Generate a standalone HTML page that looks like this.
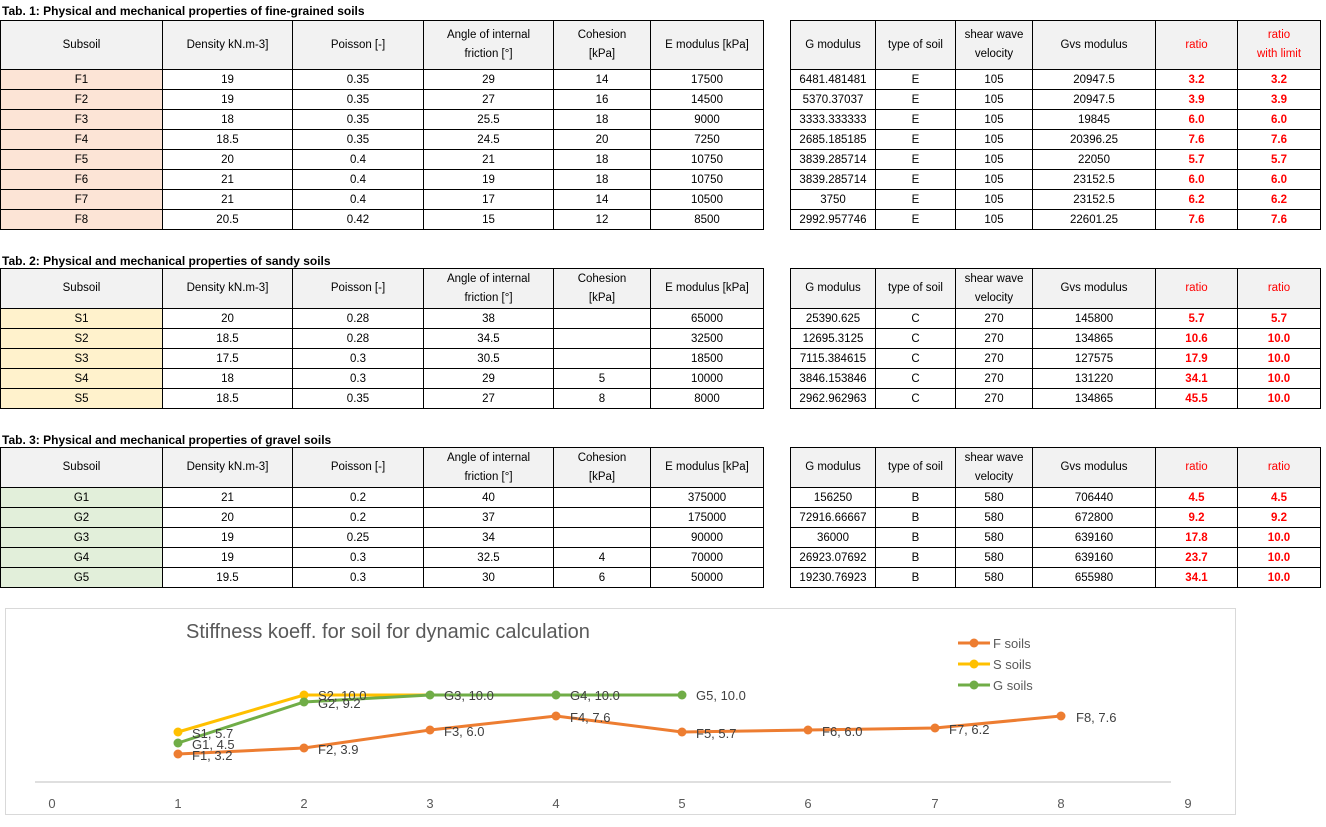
<!DOCTYPE html>
<html><head><meta charset="utf-8"><style>
body{margin:0;width:1326px;height:827px;background:#fff;position:relative;overflow:hidden;font-family:"Liberation Sans",sans-serif;font-size:11.5px;color:#000}
.t{position:absolute;font-weight:bold;font-size:12px;left:2px}
table{position:absolute;border-collapse:collapse;table-layout:fixed}
td{border:1px solid #000;text-align:center;padding:0;height:18px;line-height:14px;padding-top:1px;overflow:hidden;white-space:nowrap}
tr.h td{background:#f2f2f2;white-space:normal;line-height:19px;padding:0 14px}
.r{color:#f00;font-weight:bold}
.F td.s{background:#fce4d6}.S td.s{background:#fff2cc}.G td.s{background:#e2efda}
</style></head><body>
<div class="t" style="top:4px">Tab. 1: Physical and mechanical properties of fine-grained soils</div>
<table class="F" style="left:0;top:20px;width:763px">
<colgroup><col style="width:162px"><col style="width:130px"><col style="width:131px"><col style="width:130px"><col style="width:97px"><col style="width:113px"></colgroup>
<tr class="h"><td style="height:48px">Subsoil</td><td>Density kN.m-3]</td><td>Poisson [-]</td><td>Angle of internal friction [°]</td><td>Cohesion [kPa]</td><td>E modulus [kPa]</td></tr>
<tr><td class="s">F1</td><td>19</td><td>0.35</td><td>29</td><td>14</td><td>17500</td></tr>
<tr><td class="s">F2</td><td>19</td><td>0.35</td><td>27</td><td>16</td><td>14500</td></tr>
<tr><td class="s">F3</td><td>18</td><td>0.35</td><td>25.5</td><td>18</td><td>9000</td></tr>
<tr><td class="s">F4</td><td>18.5</td><td>0.35</td><td>24.5</td><td>20</td><td>7250</td></tr>
<tr><td class="s">F5</td><td>20</td><td>0.4</td><td>21</td><td>18</td><td>10750</td></tr>
<tr><td class="s">F6</td><td>21</td><td>0.4</td><td>19</td><td>18</td><td>10750</td></tr>
<tr><td class="s">F7</td><td>21</td><td>0.4</td><td>17</td><td>14</td><td>10500</td></tr>
<tr><td class="s">F8</td><td>20.5</td><td>0.42</td><td>15</td><td>12</td><td>8500</td></tr>
</table>
<table style="left:790px;top:20px;width:530px">
<colgroup><col style="width:85px"><col style="width:80px"><col style="width:77px"><col style="width:123px"><col style="width:82px"><col style="width:83px"></colgroup>
<tr class="h"><td style="height:48px;padding:0">G modulus</td><td style="padding:0">type of soil</td><td style="padding:0 6px">shear wave velocity</td><td>Gvs modulus</td><td class="r" style="font-weight:normal">ratio</td><td class="r" style="font-weight:normal;padding:0">ratio<br>with limit</td></tr>
<tr><td>6481.481481</td><td>E</td><td>105</td><td>20947.5</td><td class="r">3.2</td><td class="r">3.2</td></tr>
<tr><td>5370.37037</td><td>E</td><td>105</td><td>20947.5</td><td class="r">3.9</td><td class="r">3.9</td></tr>
<tr><td>3333.333333</td><td>E</td><td>105</td><td>19845</td><td class="r">6.0</td><td class="r">6.0</td></tr>
<tr><td>2685.185185</td><td>E</td><td>105</td><td>20396.25</td><td class="r">7.6</td><td class="r">7.6</td></tr>
<tr><td>3839.285714</td><td>E</td><td>105</td><td>22050</td><td class="r">5.7</td><td class="r">5.7</td></tr>
<tr><td>3839.285714</td><td>E</td><td>105</td><td>23152.5</td><td class="r">6.0</td><td class="r">6.0</td></tr>
<tr><td>3750</td><td>E</td><td>105</td><td>23152.5</td><td class="r">6.2</td><td class="r">6.2</td></tr>
<tr><td>2992.957746</td><td>E</td><td>105</td><td>22601.25</td><td class="r">7.6</td><td class="r">7.6</td></tr>
</table>

<div class="t" style="top:254px">Tab. 2: Physical and mechanical properties of sandy soils</div>
<table class="S" style="left:0;top:268px;width:763px">
<colgroup><col style="width:162px"><col style="width:130px"><col style="width:131px"><col style="width:130px"><col style="width:97px"><col style="width:113px"></colgroup>
<tr class="h"><td style="height:39px">Subsoil</td><td>Density kN.m-3]</td><td>Poisson [-]</td><td>Angle of internal friction [°]</td><td>Cohesion [kPa]</td><td>E modulus [kPa]</td></tr>
<tr><td class="s">S1</td><td>20</td><td>0.28</td><td>38</td><td></td><td>65000</td></tr>
<tr><td class="s">S2</td><td>18.5</td><td>0.28</td><td>34.5</td><td></td><td>32500</td></tr>
<tr><td class="s">S3</td><td>17.5</td><td>0.3</td><td>30.5</td><td></td><td>18500</td></tr>
<tr><td class="s">S4</td><td>18</td><td>0.3</td><td>29</td><td>5</td><td>10000</td></tr>
<tr><td class="s">S5</td><td>18.5</td><td>0.35</td><td>27</td><td>8</td><td>8000</td></tr>
</table>
<table style="left:790px;top:268px;width:530px">
<colgroup><col style="width:85px"><col style="width:80px"><col style="width:77px"><col style="width:123px"><col style="width:82px"><col style="width:83px"></colgroup>
<tr class="h"><td style="height:39px;padding:0">G modulus</td><td style="padding:0">type of soil</td><td style="padding:0 6px">shear wave velocity</td><td>Gvs modulus</td><td class="r" style="font-weight:normal">ratio</td><td class="r" style="font-weight:normal">ratio</td></tr>
<tr><td>25390.625</td><td>C</td><td>270</td><td>145800</td><td class="r">5.7</td><td class="r">5.7</td></tr>
<tr><td>12695.3125</td><td>C</td><td>270</td><td>134865</td><td class="r">10.6</td><td class="r">10.0</td></tr>
<tr><td>7115.384615</td><td>C</td><td>270</td><td>127575</td><td class="r">17.9</td><td class="r">10.0</td></tr>
<tr><td>3846.153846</td><td>C</td><td>270</td><td>131220</td><td class="r">34.1</td><td class="r">10.0</td></tr>
<tr><td>2962.962963</td><td>C</td><td>270</td><td>134865</td><td class="r">45.5</td><td class="r">10.0</td></tr>
</table>

<div class="t" style="top:433px">Tab. 3: Physical and mechanical properties of gravel soils</div>
<table class="G" style="left:0;top:447px;width:763px">
<colgroup><col style="width:162px"><col style="width:130px"><col style="width:131px"><col style="width:130px"><col style="width:97px"><col style="width:113px"></colgroup>
<tr class="h"><td style="height:39px">Subsoil</td><td>Density kN.m-3]</td><td>Poisson [-]</td><td>Angle of internal friction [°]</td><td>Cohesion [kPa]</td><td>E modulus [kPa]</td></tr>
<tr><td class="s">G1</td><td>21</td><td>0.2</td><td>40</td><td></td><td>375000</td></tr>
<tr><td class="s">G2</td><td>20</td><td>0.2</td><td>37</td><td></td><td>175000</td></tr>
<tr><td class="s">G3</td><td>19</td><td>0.25</td><td>34</td><td></td><td>90000</td></tr>
<tr><td class="s">G4</td><td>19</td><td>0.3</td><td>32.5</td><td>4</td><td>70000</td></tr>
<tr><td class="s">G5</td><td>19.5</td><td>0.3</td><td>30</td><td>6</td><td>50000</td></tr>
</table>
<table style="left:790px;top:447px;width:530px">
<colgroup><col style="width:85px"><col style="width:80px"><col style="width:77px"><col style="width:123px"><col style="width:82px"><col style="width:83px"></colgroup>
<tr class="h"><td style="height:39px;padding:0">G modulus</td><td style="padding:0">type of soil</td><td style="padding:0 6px">shear wave velocity</td><td>Gvs modulus</td><td class="r" style="font-weight:normal">ratio</td><td class="r" style="font-weight:normal">ratio</td></tr>
<tr><td>156250</td><td>B</td><td>580</td><td>706440</td><td class="r">4.5</td><td class="r">4.5</td></tr>
<tr><td>72916.66667</td><td>B</td><td>580</td><td>672800</td><td class="r">9.2</td><td class="r">9.2</td></tr>
<tr><td>36000</td><td>B</td><td>580</td><td>639160</td><td class="r">17.8</td><td class="r">10.0</td></tr>
<tr><td>26923.07692</td><td>B</td><td>580</td><td>639160</td><td class="r">23.7</td><td class="r">10.0</td></tr>
<tr><td>19230.76923</td><td>B</td><td>580</td><td>655980</td><td class="r">34.1</td><td class="r">10.0</td></tr>
</table>

<svg style="position:absolute;left:0;top:0" width="1326" height="827" font-family="Liberation Sans, sans-serif">
<rect x="5.5" y="608.5" width="1230" height="206" fill="#fff" stroke="#d9d9d9"/>
<text x="186" y="638" font-size="20" fill="#595959">Stiffness koeff. for soil for dynamic calculation</text>
<line x1="35" y1="782" x2="1171" y2="782" stroke="#bfbfbf"/>
<g font-size="13" fill="#595959" text-anchor="middle">
<text x="52" y="808">0</text><text x="178" y="808">1</text><text x="304" y="808">2</text><text x="430" y="808">3</text><text x="556" y="808">4</text><text x="682" y="808">5</text><text x="808" y="808">6</text><text x="935" y="808">7</text><text x="1061" y="808">8</text><text x="1188" y="808">9</text>
</g>
<g stroke-width="3" fill="none">
<polyline stroke="#ffc000" points="178,732 304,695 430,695 556,695 682,695"/>
<polyline stroke="#ed7d31" points="178,754 304,748 430,730 556,716 682,732 808,730 935,728 1061,716"/>
<polyline stroke="#70ad47" points="178,743 304,702 430,695 556,695 682,695"/>
</g>
<g fill="#ffc000"><circle cx="178" cy="732" r="4.5"/><circle cx="304" cy="695" r="4.5"/></g>
<g fill="#ed7d31"><circle cx="178" cy="754" r="4.5"/><circle cx="304" cy="748" r="4.5"/><circle cx="430" cy="730" r="4.5"/><circle cx="556" cy="716" r="4.5"/><circle cx="682" cy="732" r="4.5"/><circle cx="808" cy="730" r="4.5"/><circle cx="935" cy="728" r="4.5"/><circle cx="1061" cy="716" r="4.5"/></g>
<g fill="#70ad47"><circle cx="178" cy="743" r="4.5"/><circle cx="304" cy="702" r="4.5"/><circle cx="430" cy="695" r="4.5"/><circle cx="556" cy="695" r="4.5"/><circle cx="682" cy="695" r="4.5"/></g>
<g font-size="13" fill="#404040">
<text x="192" y="738">S1, 5.7</text><text x="192" y="749">G1, 4.5</text><text x="192" y="760">F1, 3.2</text>
<text x="318" y="700">S2, 10.0</text><text x="318" y="708">G2, 9.2</text><text x="318" y="754">F2, 3.9</text>
<text x="444" y="700">G3, 10.0</text><text x="444" y="736">F3, 6.0</text>
<text x="570" y="700">G4, 10.0</text><text x="570" y="722">F4, 7.6</text>
<text x="696" y="700">G5, 10.0</text><text x="696" y="738">F5, 5.7</text>
<text x="822" y="736">F6, 6.0</text><text x="949" y="734">F7, 6.2</text><text x="1076" y="722">F8, 7.6</text>
</g>
<g stroke-width="3"><line x1="958" y1="643" x2="990" y2="643" stroke="#ed7d31"/><line x1="958" y1="664" x2="990" y2="664" stroke="#ffc000"/><line x1="958" y1="685" x2="990" y2="685" stroke="#70ad47"/></g>
<circle cx="974" cy="643" r="4.5" fill="#ed7d31"/><circle cx="974" cy="664" r="4.5" fill="#ffc000"/><circle cx="974" cy="685" r="4.5" fill="#70ad47"/>
<g font-size="13" fill="#595959"><text x="993" y="648">F soils</text><text x="993" y="669">S soils</text><text x="993" y="690">G soils</text></g>
</svg>
</body></html>
